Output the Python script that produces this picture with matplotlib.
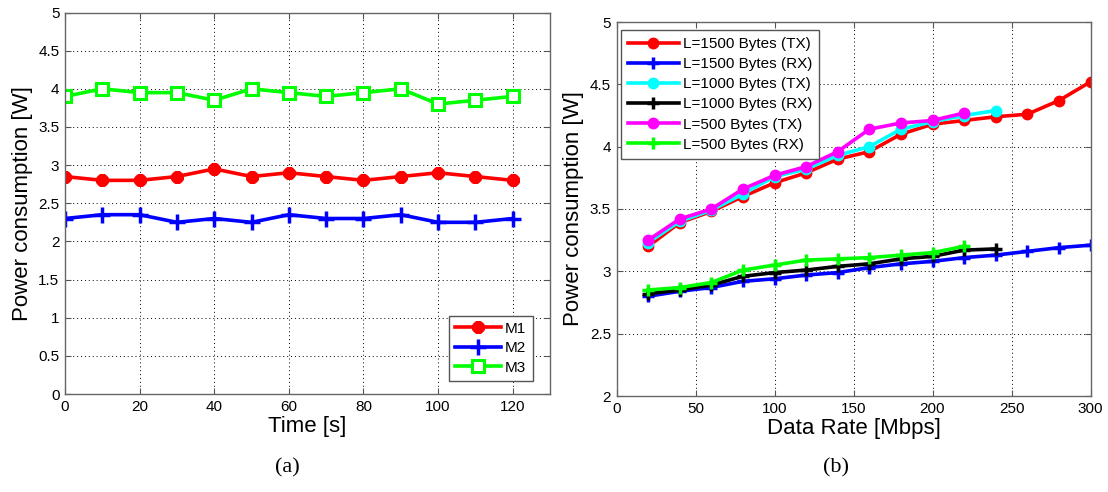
import matplotlib
matplotlib.use("Agg")
import matplotlib.pyplot as plt
import numpy as np

plt.rcParams['font.family'] = ['Liberation Sans', 'DejaVu Sans']

# ---- data (a) ----
time_s = [0, 10, 20, 30, 40, 50, 60, 70, 80, 90, 100, 110, 120]
m1 = [2.85, 2.80, 2.80, 2.85, 2.95, 2.85, 2.90, 2.85, 2.80, 2.85, 2.90, 2.85, 2.80]
m2 = [2.30, 2.35, 2.35, 2.25, 2.30, 2.25, 2.35, 2.30, 2.30, 2.35, 2.25, 2.25, 2.30]
m3 = [3.90, 4.00, 3.95, 3.95, 3.85, 4.00, 3.95, 3.90, 3.95, 4.00, 3.80, 3.85, 3.90]

# ---- data (b) ----
rate_1500 = [20, 40, 60, 80, 100, 120, 140, 160, 180, 200, 220, 240, 260, 280, 300]
rate_1000 = [20, 40, 60, 80, 100, 120, 140, 160, 180, 200, 220, 240]
rate_500 = [20, 40, 60, 80, 100, 120, 140, 160, 180, 200, 220]
tx_1500 = [3.20, 3.39, 3.48, 3.60, 3.71, 3.79, 3.90, 3.96, 4.10, 4.18, 4.21, 4.24, 4.26, 4.37, 4.52]
rx_1500 = [2.80, 2.84, 2.87, 2.92, 2.94, 2.97, 2.99, 3.03, 3.06, 3.08, 3.11, 3.13, 3.16, 3.19, 3.21]
tx_1000 = [3.23, 3.40, 3.49, 3.62, 3.76, 3.82, 3.93, 4.00, 4.14, 4.20, 4.25, 4.29]
rx_1000 = [2.82, 2.85, 2.89, 2.96, 2.99, 3.01, 3.04, 3.06, 3.10, 3.12, 3.17, 3.18]
tx_500 = [3.25, 3.42, 3.50, 3.66, 3.77, 3.84, 3.96, 4.14, 4.19, 4.21, 4.27]
rx_500 = [2.85, 2.87, 2.91, 3.01, 3.05, 3.09, 3.10, 3.11, 3.13, 3.15, 3.20]

W, H = 1108, 492
fig = plt.figure(figsize=(W / 100, H / 100), dpi=100)

axA = fig.add_axes([65 / W, 1 - 394 / H, (550 - 65) / W, (394 - 12.5) / H])
axB = fig.add_axes([616.5 / W, 1 - 396 / H, (1090.5 - 616.5) / W, (396 - 22) / H])

lw = 2.6
axA.plot(time_s, m1, color='#ff0000', lw=lw, marker=(8, 2, 0), ms=9, mew=3.2, label='M1')
axA.plot(time_s, m2, color='#0000ff', lw=lw, marker='+', ms=11, mew=2.5, label='M2')
axA.plot(time_s, m3, color='#00ff00', lw=lw, marker='s', ms=9, mew=2.2, mfc='white', label='M3')
axA.set_xlim(0, 130)
axA.set_ylim(0, 5)
axA.set_xticks(np.arange(0, 121, 20))
axA.set_yticks(np.arange(0, 5.01, 0.5))
axA.set_yticklabels(['0', '0.5', '1', '1.5', '2', '2.5', '3', '3.5', '4', '4.5', '5'])
axA.set_xlabel('Time [s]', fontsize=16, labelpad=2)
axA.set_ylabel('Power consumption [W]', fontsize=16, labelpad=4)
legA = axA.legend(loc='lower right', bbox_to_anchor=(0.964, 0.035), fontsize=11,
                  handlelength=3.0, handletextpad=0.3, borderpad=0.4, labelspacing=0.35,
                  fancybox=False, framealpha=1, edgecolor='#555555', borderaxespad=0)
legA.get_frame().set_linewidth(1.0)

msz = 7.5
axB.plot(rate_1500, tx_1500, color='#ff0000', lw=lw, marker='o', ms=msz, label='L=1500 Bytes (TX)')
axB.plot(rate_1500, rx_1500, color='#0000ff', lw=lw, marker='+', ms=9, mew=2.5, label='L=1500 Bytes (RX)')
axB.plot(rate_1000, tx_1000, color='#00ffff', lw=lw, marker='o', ms=msz, label='L=1000 Bytes (TX)')
axB.plot(rate_1000, rx_1000, color='#000000', lw=lw, marker='+', ms=9, mew=2.5, label='L=1000 Bytes (RX)')
axB.plot(rate_500, tx_500, color='#ff00ff', lw=lw, marker='o', ms=msz, label='L=500 Bytes (TX)')
axB.plot(rate_500, rx_500, color='#00ff00', lw=lw, marker='+', ms=9, mew=2.5, label='L=500 Bytes (RX)')
axB.set_xlim(0, 300)
axB.set_ylim(2, 5)
axB.set_xticks(np.arange(0, 301, 50))
axB.set_yticks(np.arange(2, 5.01, 0.5))
axB.set_yticklabels(['2', '2.5', '3', '3.5', '4', '4.5', '5'])
axB.set_xlabel('Data Rate [Mbps]', fontsize=16, labelpad=2)
axB.set_ylabel('Power consumption [W]', fontsize=16, labelpad=4)
legB = axB.legend(loc='upper left', bbox_to_anchor=(0.01, 0.978), fontsize=11,
                  handlelength=3.3, handletextpad=0.3, borderpad=0.45, labelspacing=0.4,
                  fancybox=False, framealpha=1, edgecolor='#555555', borderaxespad=0)
legB.get_frame().set_linewidth(1.0)

for ax in (axA, axB):
    ax.grid(True, linestyle=(0, (1, 3)), color='black', lw=0.7)
    ax.tick_params(direction='in', top=True, right=True, length=4, labelsize=11,
                   color='#555555', pad=4)
    for sp in ax.spines.values():
        sp.set_color('#666666')
        sp.set_linewidth(1.0)

fig.text(287 / W, 1 - 468 / H, '(a)', ha='center', va='center', fontsize=16,
         family=['Liberation Serif', 'DejaVu Serif'])
fig.text(836 / W, 1 - 468 / H, '(b)', ha='center', va='center', fontsize=16,
         family=['Liberation Serif', 'DejaVu Serif'])

fig.savefig('out.png', dpi=100)
